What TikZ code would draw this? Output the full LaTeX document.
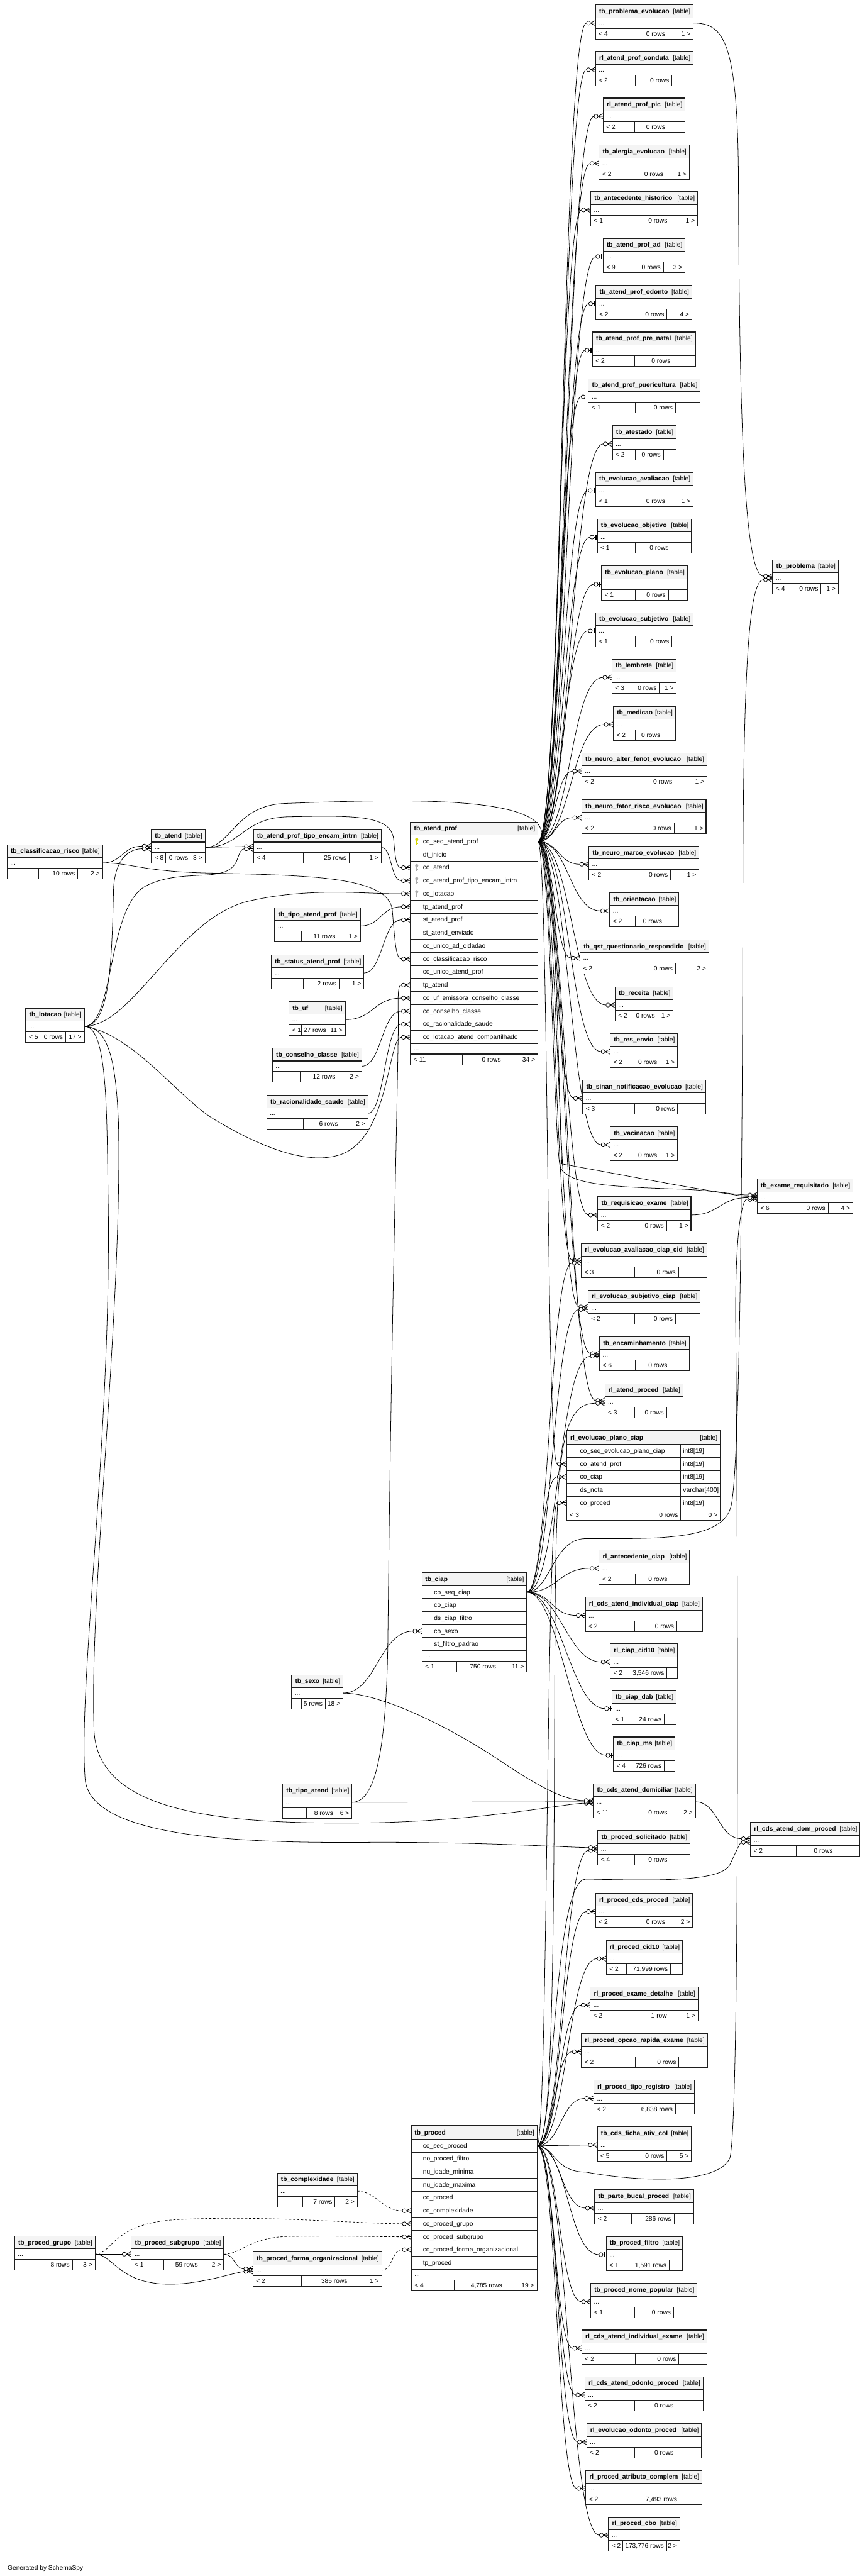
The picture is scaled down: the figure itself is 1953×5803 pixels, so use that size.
\documentclass[tikz,border=0pt]{standalone}
\usepackage{fontspec}
\setmainfont{Liberation Sans}
\usetikzlibrary{calc}
\pgfdeclarelayer{back}
\pgfdeclarelayer{bg}
\pgfsetlayers{back,bg,main}
\definecolor{hdr}{RGB}{244,244,244}
\definecolor{bord}{RGB}{30,30,30}
\definecolor{keyy}{RGB}{214,214,0}
\definecolor{keyg}{RGB}{170,170,170}
\tikzset{
  x=1pt,y=-1pt,
  cell/.style={draw=bord,line width=1.5pt,inner sep=0pt,outer sep=0pt,anchor=north west,rectangle},
  hbox/.style={cell,fill=hdr,minimum height=29pt},
  dbox/.style={cell,fill=white,minimum height=24pt},
  fbox/.style={cell,fill=white,minimum height=24pt},
  rbox/.style={cell,fill=white,minimum height=29.4pt},
  tname/.style={font=\fontsize{14.5}{16}\selectfont\bfseries,inner sep=0pt},
  ttxt/.style={font=\fontsize{14.5}{16}\selectfont,inner sep=0pt},
  conn/.style={draw=black,line width=1.1pt},
  dconn/.style={conn,dash pattern=on 5pt off 4pt},
  many/.pic={\draw[conn] (-11.5,0)--(0,-6) (-11.5,0)--(0,0) (-11.5,0)--(0,6); \draw[conn,fill=white] (-16,0) circle (4.5pt);},
  one/.pic={\draw[conn] (-7.5,0)--(0,0); \draw[draw=black,line width=2.6pt] (-3.5,-6)--(-3.5,6); \draw[conn,fill=white] (-12,0) circle (4.5pt);},
  pkey/.pic={\fill[keyy] (0,-4.5) circle (3.6pt); \fill[keyy] (-1.3,-3) rectangle (1.3,8); \fill[keyy] (1.3,3.5) rectangle (3.6,5.3);},
  fkey/.pic={\fill[keyg] (0,-4.5) circle (3.6pt); \fill[keyg] (-1.3,-3) rectangle (1.3,8); \fill[keyg] (1.3,3.5) rectangle (3.6,5.3);},
}
% small table: name, x1, x2, ytop, div1, div2, footer left, mid, right
\newcommand\stab[9]{%
  \node[hbox,minimum width={(#3-#2)*1pt}] (#1-h) at (#2,#4) {};
  \node[dbox,minimum width={(#3-#2)*1pt}] (#1-d) at (#2,#4+29) {};
  \node[fbox,minimum width={(#5-#2)*1pt}] (#1-f1) at (#2,#4+53) {};
  \node[fbox,minimum width={(#6-#5)*1pt}] (#1-f2) at (#5,#4+53) {};
  \node[fbox,minimum width={(#3-#6)*1pt}] (#1-f3) at (#6,#4+53) {};
  \node[tname,anchor=base west] (#1-n) at (#2+8,#4+19.5) {#1};
  \node[ttxt,anchor=base east] (#1-t) at (#3-6,#4+19.5) {[table]};
  \node[ttxt,anchor=base west] (#1-e) at (#2+7,#4+46) {...};
  \node[ttxt,anchor=base west] (#1-l) at (#2+7,#4+70) {#7};
  \node[ttxt,anchor=base east] (#1-m) at (#6-6,#4+70) {#8};
  \node[ttxt,anchor=base east] (#1-r) at (#3-6,#4+70) {#9};
}
\newcommand\cm[3][0]{%
  \draw[conn] let \p1=(#2), \p2=([xshift=-20.5pt,yshift=#1pt]#3.west), \n1={max(25,min(75,0.5*(\x2-\x1)))} in (\p1) .. controls +(\n1,0) and +(-\n1,0) .. (\p2);
  \pic at ([yshift=#1pt]#3.west) {many};}
\newcommand\co[3][0]{%
  \draw[conn] let \p1=(#2), \p2=([xshift=-16.5pt,yshift=#1pt]#3.west), \n1={max(25,min(75,0.5*(\x2-\x1)))} in (\p1) .. controls +(\n1,0) and +(-\n1,0) .. (\p2);
  \pic at ([yshift=#1pt]#3.west) {one};}
\begin{document}
\catcode`\_=12
\begin{tikzpicture}
\begin{pgfonlayer}{back}\fill[white] (0,0) rectangle (1953,5803);\end{pgfonlayer}
\useasboundingbox (0,0) rectangle (1953,5803);

% ---------- right column ----------
\stab{tb_problema_evolucao}{1342}{1562}{11}{1425}{1505}{< 4}{0 rows}{1 >}
\stab{rl_atend_prof_conduta}{1342}{1562}{116}{1431}{1514}{< 2}{0 rows}{}
\stab{rl_atend_prof_pic}{1359}{1544}{221}{1430}{1505}{< 2}{0 rows}{}
\stab{tb_alergia_evolucao}{1350}{1553}{327}{1425}{1501}{< 2}{0 rows}{1 >}
\stab{tb_antecedente_historico}{1331}{1572}{432}{1425}{1510}{< 1}{0 rows}{1 >}
\stab{tb_atend_prof_ad}{1359}{1544}{537}{1425}{1495}{< 9}{0 rows}{3 >}
\stab{tb_atend_prof_odonto}{1343}{1559}{643}{1425}{1503}{< 2}{0 rows}{4 >}
\stab{tb_atend_prof_pre_natal}{1335}{1567}{748}{1430}{1517}{< 2}{0 rows}{}
\stab{tb_atend_prof_puericultura}{1326}{1578}{853}{1431}{1522}{< 1}{0 rows}{}
\stab{tb_atestado}{1380}{1524}{959}{1431}{1495}{< 2}{0 rows}{}
\stab{tb_evolucao_avaliacao}{1342}{1562}{1064}{1425}{1505}{< 1}{0 rows}{1 >}
\stab{tb_evolucao_objetivo}{1346}{1558}{1169}{1431}{1513}{< 1}{0 rows}{}
\stab{tb_evolucao_plano}{1355}{1549}{1275}{1431}{1506}{< 1}{0 rows}{}
\stab{tb_evolucao_subjetivo}{1342}{1562}{1380}{1431}{1514}{< 1}{0 rows}{}
\stab{tb_lembrete}{1379}{1524}{1485}{1425}{1486}{< 3}{0 rows}{1 >}
\stab{tb_medicao}{1382}{1522}{1591}{1431}{1494}{< 2}{0 rows}{}
\stab{tb_neuro_alter_fenot_evolucao}{1311}{1593}{1696}{1425}{1521}{< 2}{0 rows}{1 >}
\stab{tb_neuro_fator_risco_evolucao}{1311}{1591}{1801}{1425}{1519}{< 2}{0 rows}{1 >}
\stab{tb_neuro_marco_evolucao}{1327}{1575}{1906}{1425}{1511}{< 2}{0 rows}{1 >}
\stab{tb_orientacao}{1374}{1530}{2011}{1431}{1498}{< 2}{0 rows}{}
\stab{tb_qst_questionario_respondido}{1307}{1597}{2117}{1425}{1522}{< 2}{0 rows}{2 >}
\stab{tb_receita}{1386}{1517}{2223}{1425}{1482}{< 2}{0 rows}{1 >}
\stab{tb_res_envio}{1375}{1527}{2328}{1425}{1487}{< 2}{0 rows}{1 >}
\stab{tb_sinan_notificacao_evolucao}{1313}{1590}{2433}{1430}{1527}{< 3}{0 rows}{}
\stab{tb_vacinacao}{1375}{1527}{2538}{1425}{1487}{< 2}{0 rows}{1 >}
\stab{tb_exame_requisitado}{1706}{1922}{2656}{1787}{1866}{< 6}{0 rows}{4 >}
\stab{tb_requisicao_exame}{1347}{1557}{2696}{1425}{1502}{< 2}{0 rows}{1 >}
\stab{rl_evolucao_avaliacao_ciap_cid}{1310}{1593}{2801}{1430}{1529}{< 3}{0 rows}{}
\stab{rl_evolucao_subjetivo_ciap}{1325}{1578}{2906}{1430}{1522}{< 2}{0 rows}{}
\stab{tb_encaminhamento}{1351}{1553}{3011}{1431}{1510}{< 6}{0 rows}{}
\stab{rl_atend_proced}{1363}{1539}{3117}{1430}{1502}{< 3}{0 rows}{}
\stab{rl_antecedente_ciap}{1350}{1554}{3492}{1431}{1510}{< 2}{0 rows}{}
\stab{rl_cds_atend_individual_ciap}{1319}{1583}{3598}{1430}{1525}{< 2}{0 rows}{}
\stab{rl_ciap_cid10}{1375}{1527}{3703}{1417}{1503}{< 2}{3,546 rows}{}
\stab{tb_ciap_dab}{1379}{1524}{3808}{1425}{1497}{< 1}{24 rows}{}
\stab{tb_ciap_ms}{1382}{1521}{3913}{1422}{1497}{< 4}{726 rows}{}
\stab{tb_cds_atend_domiciliar}{1337}{1567}{4018}{1429}{1510}{< 11}{0 rows}{2 >}
\stab{tb_proced_solicitado}{1347}{1555}{4124}{1430}{1510}{< 4}{0 rows}{}
\stab{rl_cds_atend_dom_proced}{1691}{1938}{4105}{1794}{1883}{< 2}{0 rows}{}
\stab{rl_proced_cds_proced}{1342}{1561}{4265}{1425}{1505}{< 2}{0 rows}{2 >}
\stab{rl_proced_cid10}{1366}{1538}{4371}{1412}{1511}{< 2}{71,999 rows}{}
\stab{rl_proced_exame_detalhe}{1330}{1573}{4476}{1429}{1509}{< 2}{1 row}{1 >}
\stab{rl_proced_opcao_rapida_exame}{1310}{1594}{4581}{1431}{1530}{< 2}{0 rows}{}
\stab{rl_proced_tipo_registro}{1338}{1565}{4686}{1417}{1522}{< 2}{6,838 rows}{}
\stab{tb_cds_ficha_ativ_col}{1346}{1558}{4791}{1425}{1503}{< 5}{0 rows}{5 >}
\stab{tb_parte_bucal_proced}{1340}{1563}{4933}{1423}{1519}{< 2}{286 rows}{}
\stab{tb_proced_filtro}{1366}{1538}{5038}{1417}{1508}{< 1}{1,591 rows}{}
\stab{tb_proced_nome_popular}{1331}{1571}{5144}{1430}{1518}{< 1}{0 rows}{}
\stab{rl_cds_atend_individual_exame}{1311}{1593}{5249}{1431}{1530}{< 2}{0 rows}{}
\stab{rl_cds_atend_odonto_proced}{1318}{1584}{5354}{1430}{1524}{< 2}{0 rows}{}
\stab{rl_evolucao_odonto_proced}{1322}{1581}{5460}{1430}{1524}{< 2}{0 rows}{}
\stab{rl_proced_atributo_complem}{1320}{1582}{5565}{1417}{1532}{< 2}{7,493 rows}{}
\stab{rl_proced_cbo}{1371}{1532}{5670}{1403}{1502}{< 2}{173,776 rows}{2 >}
\stab{tb_problema}{1741}{1889}{1261}{1787}{1850}{< 4}{0 rows}{1 >}

% ---------- left tables ----------
\stab{tb_classificacao_risco}{16}{231}{1903}{87}{175}{}{10 rows}{2 >}
\stab{tb_atend}{341}{462}{1868}{373}{430}{< 8}{0 rows}{3 >}
\stab{tb_atend_prof_tipo_encam_intrn}{571}{859}{1868}{684}{787}{< 4}{25 rows}{1 >}
\stab{tb_tipo_atend_prof}{619}{812}{2045}{679}{762}{}{11 rows}{1 >}
\stab{tb_status_atend_prof}{611}{820}{2151}{683}{764}{}{2 rows}{1 >}
\stab{tb_uf}{651}{778}{2256}{680}{741}{< 1}{27 rows}{11 >}
\stab{tb_conselho_classe}{614}{815}{2361}{677}{762}{}{12 rows}{2 >}
\stab{tb_racionalidade_saude}{601}{829}{2467}{683}{768}{}{6 rows}{2 >}
\stab{tb_lotacao}{58}{190}{2271}{93}{148}{< 5}{0 rows}{17 >}
\stab{tb_sexo}{657}{773}{3773}{679}{733}{}{5 rows}{18 >}
\stab{tb_tipo_atend}{637}{793}{4019}{690}{757}{}{8 rows}{6 >}
\stab{tb_complexidade}{625}{805}{4895}{682}{755}{}{7 rows}{2 >}
\stab{tb_proced_grupo}{33}{214}{5037}{90}{163}{}{8 rows}{3 >}
\stab{tb_proced_subgrupo}{296}{504}{5037}{369}{452}{< 1}{59 rows}{2 >}
\stab{tb_proced_forma_organizacional}{570}{860}{5073}{680}{789}{< 2}{385 rows}{1 >}

% ---------- tb_atend_prof ----------
\node[hbox,minimum width=287pt] (tb_atend_prof-h) at (925,1852) {};
\node[tname,anchor=base west] (tb_atend_prof-n) at (933,1871.5) {tb_atend_prof};
\node[ttxt,anchor=base east] (tb_atend_prof-t) at (1206,1871.5) {[table]};
\foreach \fld [count=\idx from 0] in {co_seq_atend_prof,dt_inicio,co_atend,co_atend_prof_tipo_encam_intrn,co_lotacao,tp_atend_prof,st_atend_prof,st_atend_enviado,co_unico_ad_cidadao,co_classificacao_risco,co_unico_atend_prof,tp_atend,co_uf_emissora_conselho_classe,co_conselho_classe,co_racionalidade_saude,co_lotacao_atend_compartilhado}{
  \node[rbox,minimum width=287pt] (tb_atend_prof-r\idx) at (925,1881+29.4*\idx) {};
  \node[ttxt,anchor=base west] (tb_atend_prof-c\idx) at (953,1881+29.4*\idx+19.5) {\fld};
}
\node[dbox,minimum width=287pt,minimum height=23pt] (tb_atend_prof-d) at (925,2351.4) {};
\node[ttxt,anchor=base west] (tb_atend_prof-e) at (932,2367) {...};
\node[fbox,minimum width=117pt,minimum height=24.6pt] (tb_atend_prof-f1) at (925,2374.4) {};
\node[fbox,minimum width=93pt,minimum height=24.6pt] (tb_atend_prof-f2) at (1042,2374.4) {};
\node[fbox,minimum width=77pt,minimum height=24.6pt] (tb_atend_prof-f3) at (1135,2374.4) {};
\node[ttxt,anchor=base west] (tb_atend_prof-l) at (932,2392) {< 11};
\node[ttxt,anchor=base east] (tb_atend_prof-m) at (1129,2392) {0 rows};
\node[ttxt,anchor=base east] (tb_atend_prof-rr) at (1206,2392) {34 >};
\pic at (939,1895.7) {pkey};
\pic at (939,1954.5) {fkey};
\pic at (939,1983.9) {fkey};
\pic at (939,2013.3) {fkey};

% ---------- tb_ciap ----------
\node[hbox,minimum width=236pt,minimum height=30pt] (tb_ciap-h) at (951,3542) {};
\node[tname,anchor=base west] (tb_ciap-n) at (958,3562) {tb_ciap};
\node[ttxt,anchor=base east] (tb_ciap-t) at (1181,3562) {[table]};
\foreach \fld [count=\idx from 0] in {co_seq_ciap,co_ciap,ds_ciap_filtro,co_sexo,st_filtro_padrao}{
  \node[rbox,minimum width=236pt,minimum height=29.3pt] (tb_ciap-r\idx) at (951,3572+29.3*\idx) {};
  \node[ttxt,anchor=base west] (tb_ciap-c\idx) at (978,3572+29.3*\idx+19.5) {\fld};
}
\node[dbox,minimum width=236pt,minimum height=23.5pt] (tb_ciap-d) at (951,3718.5) {};
\node[ttxt,anchor=base west] (tb_ciap-e) at (958,3734) {...};
\node[fbox,minimum width=78pt,minimum height=25pt] (tb_ciap-f1) at (951,3742) {};
\node[fbox,minimum width=95pt,minimum height=25pt] (tb_ciap-f2) at (1029,3742) {};
\node[fbox,minimum width=63pt,minimum height=25pt] (tb_ciap-f3) at (1124,3742) {};
\node[ttxt,anchor=base west] (tb_ciap-l) at (958,3760) {< 1};
\node[ttxt,anchor=base east] (tb_ciap-m) at (1118,3760) {750 rows};
\node[ttxt,anchor=base east] (tb_ciap-rr) at (1181,3760) {11 >};

% ---------- tb_proced ----------
\node[hbox,minimum width=283pt,minimum height=31pt] (tb_proced-h) at (927,4788) {};
\node[tname,anchor=base west] (tb_proced-n) at (934,4808.5) {tb_proced};
\node[ttxt,anchor=base east] (tb_proced-t) at (1204,4808.5) {[table]};
\foreach \fld [count=\idx from 0] in {co_seq_proced,no_proced_filtro,nu_idade_minima,nu_idade_maxima,co_proced,co_complexidade,co_proced_grupo,co_proced_subgrupo,co_proced_forma_organizacional,tp_proced}{
  \node[rbox,minimum width=283pt,minimum height=29.3pt] (tb_proced-r\idx) at (927,4819+29.3*\idx) {};
  \node[ttxt,anchor=base west] (tb_proced-c\idx) at (953,4819+29.3*\idx+19.5) {\fld};
}
\node[dbox,minimum width=283pt,minimum height=24pt] (tb_proced-d) at (927,5112) {};
\node[ttxt,anchor=base west] (tb_proced-e) at (934,5128) {...};
\node[fbox,minimum width=96pt,minimum height=24pt] (tb_proced-f1) at (927,5136) {};
\node[fbox,minimum width=115pt,minimum height=24pt] (tb_proced-f2) at (1023,5136) {};
\node[fbox,minimum width=72pt,minimum height=24pt] (tb_proced-f3) at (1138,5136) {};
\node[ttxt,anchor=base west] (tb_proced-l) at (934,5153) {< 4};
\node[ttxt,anchor=base east] (tb_proced-m) at (1132,5153) {4,785 rows};
\node[ttxt,anchor=base east] (tb_proced-rr) at (1204,5153) {19 >};

% ---------- rl_evolucao_plano_ciap (focus) ----------
\node[hbox,minimum width=348pt,minimum height=31pt] (rl_evolucao_plano_ciap-h) at (1276,3223) {};
\node[tname,anchor=base west] (rl_evolucao_plano_ciap-n) at (1285,3244) {rl_evolucao_plano_ciap};
\node[ttxt,anchor=base east] (rl_evolucao_plano_ciap-t) at (1617,3244) {[table]};
\foreach \fld/\typ [count=\idx from 0] in {co_seq_evolucao_plano_ciap/int8[19],co_atend_prof/int8[19],co_ciap/int8[19],ds_nota/varchar[400],co_proced/int8[19]}{
  \node[rbox,minimum width=258pt,minimum height=29.2pt] (rl_evolucao_plano_ciap-r\idx) at (1276,3254+29.2*\idx) {};
  \node[rbox,minimum width=90pt,minimum height=29.2pt] (rl_evolucao_plano_ciap-s\idx) at (1534,3254+29.2*\idx) {};
  \node[ttxt,anchor=base west] (rl_evolucao_plano_ciap-c\idx) at (1307,3254+29.2*\idx+19.5) {\fld};
  \node[ttxt,anchor=base west] (rl_evolucao_plano_ciap-y\idx) at (1539,3254+29.2*\idx+19.5) {\typ};
}
\node[fbox,minimum width=119pt,minimum height=26pt] (rl_evolucao_plano_ciap-f1) at (1276,3400) {};
\node[fbox,minimum width=139pt,minimum height=26pt] (rl_evolucao_plano_ciap-f2) at (1395,3400) {};
\node[fbox,minimum width=90pt,minimum height=26pt] (rl_evolucao_plano_ciap-f3) at (1534,3400) {};
\node[ttxt,anchor=base west] (rl_evolucao_plano_ciap-l) at (1284,3418) {< 3};
\node[ttxt,anchor=base east] (rl_evolucao_plano_ciap-m) at (1528,3418) {0 rows};
\node[ttxt,anchor=base east] (rl_evolucao_plano_ciap-rr) at (1617,3418) {0 >};
\draw[draw=bord,line width=3pt] (rl_evolucao_plano_ciap-h.north west) rectangle (rl_evolucao_plano_ciap-f3.south east);

\node[ttxt,anchor=base west] (gen) at (17,5789) {Generated by SchemaSpy};

% ---------- connectors ----------
\begin{pgfonlayer}{bg}
% tb_atend_prof fan
\foreach \tgt in {tb_problema_evolucao,rl_atend_prof_conduta,rl_atend_prof_pic,tb_alergia_evolucao,tb_antecedente_historico,tb_atestado,tb_lembrete,tb_medicao,tb_neuro_alter_fenot_evolucao,tb_neuro_fator_risco_evolucao,tb_neuro_marco_evolucao,tb_orientacao,tb_qst_questionario_respondido,tb_receita,tb_res_envio,tb_sinan_notificacao_evolucao,tb_vacinacao,tb_requisicao_exame}{\cm{tb_atend_prof-r0.east}{\tgt-d}}
\foreach \tgt in {tb_atend_prof_ad,tb_atend_prof_odonto,tb_atend_prof_pre_natal,tb_atend_prof_puericultura,tb_evolucao_avaliacao,tb_evolucao_objetivo,tb_evolucao_plano,tb_evolucao_subjetivo}{\co{tb_atend_prof-r0.east}{\tgt-d}}
\cm[3]{tb_atend_prof-r0.east}{rl_evolucao_avaliacao_ciap_cid-d}
\cm[3]{tb_atend_prof-r0.east}{rl_evolucao_subjetivo_ciap-d}
\cm[3]{tb_atend_prof-r0.east}{tb_encaminhamento-d}
\cm[3]{tb_atend_prof-r0.east}{rl_atend_proced-d}
\cm{tb_atend_prof-r0.east}{rl_evolucao_plano_ciap-r1}
\draw[conn] (tb_atend_prof-r0.east) .. controls (1240,1896) and (1248,2560) .. (1262,2628) .. controls (1278,2672) and (1400,2674) .. (1540,2679) .. controls (1620,2682) and (1660,2695) .. ([xshift=-20.5pt,yshift=2pt]tb_exame_requisitado-d.west);
\pic at ([yshift=2pt]tb_exame_requisitado-d.west) {many};
% tb_ciap fan
\cm[-3]{tb_ciap-r0.east}{rl_evolucao_avaliacao_ciap_cid-d}
\cm[-3]{tb_ciap-r0.east}{rl_evolucao_subjetivo_ciap-d}
\cm[-3]{tb_ciap-r0.east}{tb_encaminhamento-d}
\cm{tb_ciap-r0.east}{rl_evolucao_plano_ciap-r2}
\foreach \tgt in {rl_antecedente_ciap,rl_cds_atend_individual_ciap,rl_ciap_cid10}{\cm{tb_ciap-r0.east}{\tgt-d}}
\foreach \tgt in {tb_ciap_dab,tb_ciap_ms}{\co{tb_ciap-r0.east}{\tgt-d}}
\draw[conn] (tb_ciap-r0.east) .. controls (1240,3587) and (1245,3466) .. (1320,3466) .. controls (1480,3466) and (1632,3472) .. (1648,3390) .. controls (1668,3290) and (1673,2600) .. (1674,2000) .. controls (1675,1500) and (1688,1306) .. ([xshift=-20.5pt,yshift=-4pt]tb_problema-d.west);
\pic at ([yshift=-4pt]tb_problema-d.west) {many};
% tb_problema_evolucao -> tb_problema
\draw[conn] (tb_problema_evolucao-d.east) .. controls (1630,52) and (1662,90) .. (1664,400) .. controls (1666,1000) and (1680,1298) .. ([xshift=-20.5pt,yshift=4pt]tb_problema-d.west);
\pic at ([yshift=4pt]tb_problema-d.west) {many};
% tb_proced fan
\cm{tb_proced-r0.east}{rl_evolucao_plano_ciap-r4}
\cm[-3]{tb_proced-r0.east}{tb_proced_solicitado-d}
\foreach \tgt in {rl_proced_cds_proced,rl_proced_cid10,rl_proced_exame_detalhe,rl_proced_opcao_rapida_exame,rl_proced_tipo_registro,tb_cds_ficha_ativ_col,tb_parte_bucal_proced,tb_proced_nome_popular,rl_cds_atend_individual_exame,rl_cds_atend_odonto_proced,rl_evolucao_odonto_proced,rl_proced_atributo_complem,rl_proced_cbo}{\cm{tb_proced-r0.east}{\tgt-d}}
\co{tb_proced-r0.east}{tb_proced_filtro-d}
\draw[conn] (tb_proced-r0.east) .. controls (1245,4834) and (1248,4400) .. (1250,3800) .. controls (1252,3300) and (1255,3161) .. ([xshift=-20.5pt,yshift=-3pt]rl_atend_proced-d.west);
\pic at ([yshift=-3pt]rl_atend_proced-d.west) {many};
\draw[conn] (tb_proced-r0.east) .. controls (1250,4834) and (1248,4893) .. (1320,4893) .. controls (1470,4920) and (1625,4915) .. (1645,4860) .. controls (1668,4760) and (1662,3400) .. (1658,3000) .. controls (1655,2780) and (1672,2692) .. ([xshift=-20.5pt,yshift=-5pt]tb_exame_requisitado-d.west);
\pic at ([yshift=-5pt]tb_exame_requisitado-d.west) {many};
\draw[conn] (tb_proced-r0.east) .. controls (1250,4834) and (1245,4233) .. (1320,4233) .. controls (1480,4236) and (1625,4240) .. (1645,4200) .. controls (1660,4168) and (1668,4150) .. ([xshift=-20.5pt,yshift=-4pt]rl_cds_atend_dom_proced-d.west);
\pic at ([yshift=-4pt]rl_cds_atend_dom_proced-d.west) {many};
\cm[4]{tb_cds_atend_domiciliar-d.east}{rl_cds_atend_dom_proced-d}
\cm[-1]{tb_requisicao_exame-d.east}{tb_exame_requisitado-d}
% tb_atend
\draw[conn] (tb_atend-d.east) .. controls (520,1909) and (530,1815) .. (640,1810) .. controls (900,1800) and (1170,1795) .. (1215,1860) .. controls (1255,1925) and (1258,2450) .. (1266,2622) .. controls (1450,2655) and (1620,2690) .. ([xshift=-20.5pt,yshift=5pt]tb_exame_requisitado-d.west);
\pic at ([yshift=5pt]tb_exame_requisitado-d.west) {many};
\draw[conn] (tb_atend-d.east) .. controls (545,1909) and (545,1842) .. (650,1840) .. controls (800,1837) and (880,1836) .. (887,1890) .. controls (891,1935) and (893,1955) .. ([xshift=-20.5pt]tb_atend_prof-r2.west);
\pic at (tb_atend_prof-r2.west) {many};
\cm[2]{tb_atend-d.east}{tb_atend_prof_tipo_encam_intrn-d}
\cm{tb_atend_prof_tipo_encam_intrn-d.east}{tb_atend_prof-r3}
% tb_classificacao_risco
\cm[3]{tb_classificacao_risco-d.east}{tb_atend-d}
\draw[conn] (tb_classificacao_risco-d.east) .. controls (300,1944) and (320,1964) .. (480,1967) .. controls (700,1972) and (876,1975) .. (884,2050) .. controls (890,2120) and (892,2161) .. ([xshift=-20.5pt]tb_atend_prof-r9.west);
\pic at (tb_atend_prof-r9.west) {many};
% tb_lotacao
\draw[conn] (tb_lotacao-d.east) .. controls (250,2312) and (252,2150) .. (256,2000) .. controls (260,1935) and (290,1912) .. ([xshift=-20.5pt,yshift=-3pt]tb_atend-d.west);
\pic at ([yshift=-3pt]tb_atend-d.west) {many};
\draw[conn] (tb_lotacao-d.east) .. controls (300,2312) and (400,2068) .. (560,2030) .. controls (700,1998) and (820,2014) .. ([xshift=-20.5pt]tb_atend_prof-r4.west);
\pic at (tb_atend_prof-r4.west) {many};
\draw[conn] (tb_lotacao-d.east) .. controls (258,2312) and (240,2040) .. (330,1995) .. controls (420,1952) and (515,1995) .. (535,1935) .. controls (541,1918) and (544,1913) .. ([xshift=-20.5pt,yshift=-3pt]tb_atend_prof_tipo_encam_intrn-d.west);
\pic at ([yshift=-3pt]tb_atend_prof_tipo_encam_intrn-d.west) {many};
\draw[conn] (tb_lotacao-d.east) .. controls (300,2330) and (400,2470) .. (480,2520) .. controls (600,2592) and (700,2625) .. (770,2600) .. controls (878,2560) and (874,2337) .. ([xshift=-20.5pt]tb_atend_prof-r15.west);
\pic at (tb_atend_prof-r15.west) {many};
\draw[conn] (tb_lotacao-d.east) .. controls (252,2312) and (262,2420) .. (267,2530) .. controls (276,2950) and (200,3600) .. (212,3900) .. controls (222,4085) and (500,4112) .. (850,4106) .. controls (1100,4100) and (1280,4062) .. ([xshift=-20.5pt,yshift=-3pt]tb_cds_atend_domiciliar-d.west);
\pic at ([yshift=-3pt]tb_cds_atend_domiciliar-d.west) {many};
\draw[conn] (tb_lotacao-d.east) .. controls (245,2312) and (240,2520) .. (244,2720) .. controls (250,3250) and (175,3800) .. (192,4010) .. controls (208,4150) and (600,4152) .. (850,4150) .. controls (1100,4150) and (1290,4162) .. ([xshift=-20.5pt,yshift=3pt]tb_proced_solicitado-d.west);
\pic at ([yshift=3pt]tb_proced_solicitado-d.west) {many};
% other lookup tables into tb_atend_prof
\cm{tb_tipo_atend_prof-d.east}{tb_atend_prof-r5}
\cm{tb_status_atend_prof-d.east}{tb_atend_prof-r6}
\cm{tb_uf-d.east}{tb_atend_prof-r12}
\cm{tb_conselho_classe-d.east}{tb_atend_prof-r13}
\cm{tb_racionalidade_saude-d.east}{tb_atend_prof-r14}
\draw[conn] (tb_tipo_atend-d.east) .. controls (845,4060) and (870,3950) .. (874,3700) .. controls (880,3100) and (893,2600) .. (897,2350) .. controls (899,2262) and (893,2219) .. ([xshift=-20.5pt]tb_atend_prof-r11.west);
\pic at (tb_atend_prof-r11.west) {many};
\cm{tb_tipo_atend-d.east}{tb_cds_atend_domiciliar-d}
% tb_sexo
\cm{tb_sexo-d.east}{tb_ciap-r3}
\draw[conn] (tb_sexo-d.east) .. controls (850,3814) and (1000,3880) .. (1140,3975) .. controls (1230,4035) and (1280,4056) .. ([xshift=-20.5pt,yshift=3pt]tb_cds_atend_domiciliar-d.west);
\pic at ([yshift=3pt]tb_cds_atend_domiciliar-d.west) {many};
% procedure hierarchy
\draw[dconn] (tb_complexidade-d.east) .. controls (850,4937) and (860,4980) .. ([xshift=-20.5pt]tb_proced-r5.west);
\pic at (tb_proced-r5.west) {many};
\draw[dconn] (tb_proced_grupo-d.east) .. controls (255,5078) and (250,5008) .. (400,5000) .. controls (600,4990) and (800,5009) .. ([xshift=-20.5pt]tb_proced-r6.west);
\pic at (tb_proced-r6.west) {many};
\draw[conn] (tb_proced_grupo-d.east) -- ([xshift=-20.5pt]tb_proced_subgrupo-d.west);
\pic at (tb_proced_subgrupo-d.west) {many};
\draw[conn] (tb_proced_grupo-d.east) .. controls (250,5078) and (262,5128) .. (340,5142) .. controls (420,5156) and (505,5125) .. ([xshift=-20.5pt,yshift=-3pt]tb_proced_forma_organizacional-d.west);
\pic at ([yshift=-3pt]tb_proced_forma_organizacional-d.west) {many};
\draw[conn] (tb_proced_subgrupo-d.east) .. controls (530,5078) and (528,5111) .. ([xshift=-20.5pt,yshift=3pt]tb_proced_forma_organizacional-d.west);
\pic at ([yshift=3pt]tb_proced_forma_organizacional-d.west) {many};
\draw[dconn] (tb_proced_subgrupo-d.east) .. controls (545,5078) and (560,5040) .. (650,5038) .. controls (780,5036) and (850,5039) .. ([xshift=-20.5pt]tb_proced-r7.west);
\pic at (tb_proced-r7.west) {many};
\draw[dconn] (tb_proced_forma_organizacional-d.east) .. controls (885,5115) and (882,5068) .. ([xshift=-20.5pt]tb_proced-r8.west);
\pic at (tb_proced-r8.west) {many};
\end{pgfonlayer}
\end{tikzpicture}
\end{document}
